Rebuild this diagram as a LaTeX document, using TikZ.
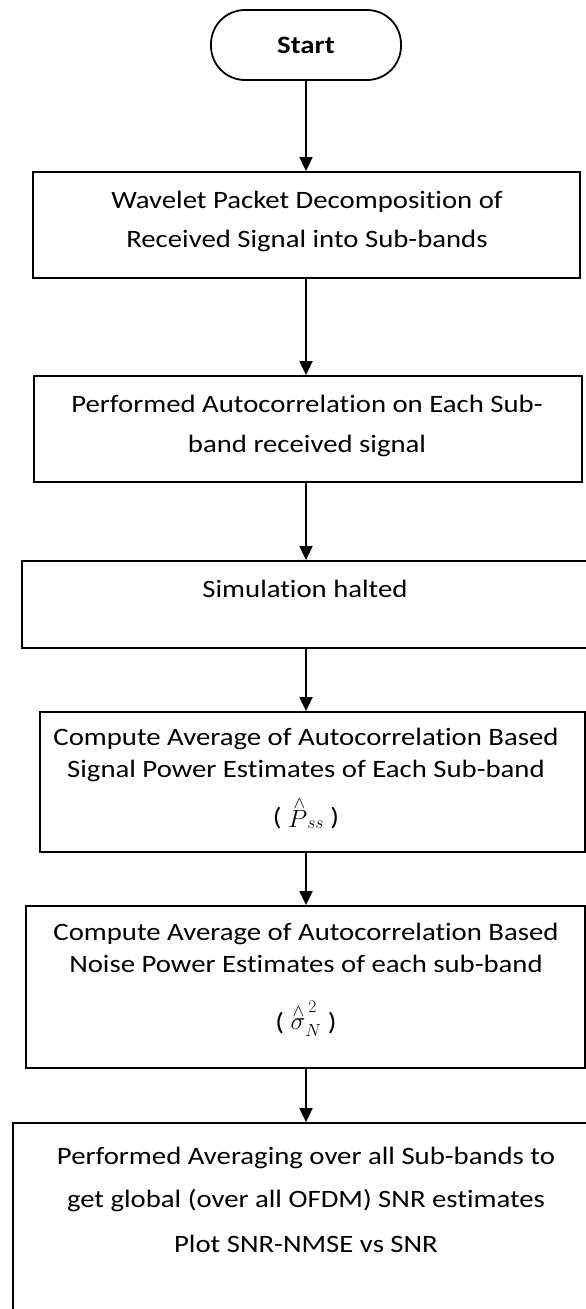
\RequirePackage{fix-cm}
\documentclass[tikz,border=0pt]{standalone}
\usepackage{fontspec}
\setmainfont{Carlito}[FakeStretch=1.15, Ligatures=NoCommon]
\usetikzlibrary{arrows.meta}
\tikzset{
  flowbox/.style={draw, line width=1.8pt, rectangle, inner sep=0pt},
  startbox/.style={draw, line width=1.8pt, rectangle, rounded corners=34pt,
    minimum width=190pt, minimum height=70pt, inner sep=0pt,
    font=\fontsize{25}{30}\selectfont\bfseries},
  txt/.style={anchor=base, inner sep=0pt, font=\fontsize{25}{30}\selectfont},
  flow/.style={line width=1.8pt, -{Triangle[width=13pt,length=14pt]}},
}
\newcommand{\hatted}[1]{\stackrel{\wedge}{#1}}
\begin{document}
\begin{tikzpicture}[x=1pt,y=-1pt]
\useasboundingbox (0,0) rectangle (586,1309);
\fill[white] (0,0) rectangle (586,1309);

% terminal
\node[startbox] (s) at (306,45) {Start};

% process boxes
\node[flowbox, minimum width=547pt, minimum height=106pt] (b1) at (306.5,225) {};
\node[flowbox, minimum width=548pt, minimum height=106pt] (b2) at (308,429) {};
\node[flowbox, minimum width=570pt, minimum height=87pt]  (b3) at (307,604.5) {};
\node[flowbox, minimum width=545pt, minimum height=140pt] (b4) at (312.5,782) {};
\node[flowbox, minimum width=559pt, minimum height=162pt] (b5) at (305.5,987) {};
\node[flowbox, minimum width=577pt, minimum height=217pt] (b6) at (301.5,1231.5) {};

% texts
\node[txt] (t1a) at (307,208) {Wavelet Packet Decomposition of};
\node[txt] (t1b) at (307,247) {Received Signal into Sub-bands};
\node[txt] (t2a) at (307,412) {Performed Autocorrelation on Each Sub-};
\node[txt] (t2b) at (307,452) {band received signal};
\node[txt] (t3a) at (305,597) {Simulation halted};
\node[txt] (t4a) at (306,745) {Compute Average of Autocorrelation Based};
\node[txt] (t4b) at (306,777) {Signal Power Estimates of Each Sub-band};
\node[txt] (t4c) at (306,825) {( ${\hatted{P}}_{ss}$ )};
\node[txt] (t5a) at (306,940) {Compute Average of Autocorrelation Based};
\node[txt] (t5b) at (306,972) {Noise Power Estimates of each sub-band};
\node[txt] (t5c) at (306,1030) {( ${\hatted{\sigma}}^{\,2}_{N}$ )};
\node[txt] (t6a) at (306,1164) {Performed Averaging over all Sub-bands to};
\node[txt] (t6b) at (306,1207) {get global (over all OFDM) SNR estimates};
\node[txt] (t6c) at (306,1252) {Plot SNR-NMSE vs SNR};

% connectors
\draw[flow] (s.south) -- (b1.north -| s.south);
\draw[flow] (b1.south -| s.south) -- (b2.north -| s.south);
\draw[flow] (b2.south -| s.south) -- (b3.north -| s.south);
\draw[flow] (b3.south -| s.south) -- (b4.north -| s.south);
\draw[flow] (b4.south -| s.south) -- (b5.north -| s.south);
\draw[flow] (b5.south -| s.south) -- (b6.north -| s.south);
\end{tikzpicture}
\end{document}
